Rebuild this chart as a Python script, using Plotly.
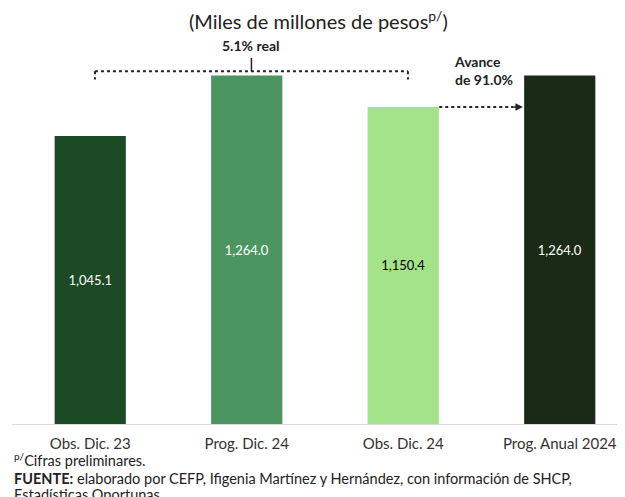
import plotly.graph_objects as go

# data
categories = ["Obs. Dic. 23", "Prog. Dic. 24", "Obs. Dic. 24", "Prog. Anual 2024"]
values = [1045.1, 1264.0, 1150.4, 1264.0]
bar_colors = ["#1c4a24", "#4a9560", "#a4e38a", "#1a2a16"]
label_colors = ["white", "white", "black", "white"]
growth_label = "5.1% real"
progress_label = "Avance<br>de 91.0%"

FONT = "Lato"

fig = go.Figure(
    go.Bar(
        x=categories,
        y=values,
        marker=dict(color=bar_colors, line=dict(width=0)),
        width=0.455,
        text=[f"{v:,.1f}" for v in values],
        textposition="inside",
        insidetextanchor="middle",
        textfont=dict(family=FONT, size=13, color=label_colors),
        hoverinfo="skip",
    )
)

# bracket between Obs. Dic. 23 and Obs. Dic. 24
y_br = 1280
dot = dict(color="#222222", width=2, dash="dot")
fig.add_shape(type="line", x0=0.03, x1=2.03, y0=y_br, y1=y_br, xref="x", yref="y", line=dot)
fig.add_shape(type="line", x0=0.03, x1=0.03, y0=y_br, y1=y_br - 30, xref="x", yref="y", line=dot)
fig.add_shape(type="line", x0=2.03, x1=2.03, y0=y_br, y1=y_br - 30, xref="x", yref="y", line=dot)
fig.add_shape(type="line", x0=1.03, x1=1.03, y0=y_br, y1=y_br + 48, xref="x", yref="y",
              line=dict(color="#222222", width=1.5))
fig.add_annotation(x=1.03, y=y_br + 56, xref="x", yref="y", text=f"<b>{growth_label}</b>",
                   showarrow=False, yanchor="bottom", font=dict(family=FONT, size=14, color="#222222"))

# dotted arrow from Obs. Dic. 24 to the annual programme
fig.add_shape(type="line", x0=2.23, x1=2.7, y0=values[2], y1=values[2], xref="x", yref="y", line=dot)
fig.add_annotation(x=2.765, y=values[2], ax=2.68, ay=values[2], xref="x", yref="y",
                   axref="x", ayref="y", text="", showarrow=True, arrowhead=2,
                   arrowsize=1, arrowwidth=1.5, arrowcolor="#222222")
fig.add_annotation(x=2.31, y=1212, xref="x", yref="y", text=f"<b>{progress_label}</b>",
                   showarrow=False, align="left", xanchor="left", yanchor="bottom",
                   font=dict(family=FONT, size=14, color="#222222"))

# title and footnotes
fig.add_annotation(x=0.5, y=1, xref="paper", yref="paper", yshift=20, yanchor="middle",
                   text="(Miles de millones de pesos<sup>p/</sup>)", showarrow=False,
                   font=dict(family=FONT, size=20, color="#222222"))
notes = [
    "<sup>p/</sup>Cifras preliminares.",
    "<b>FUENTE:</b> elaborado por CEFP, Ifigenia Martínez y Hernández, con información de SHCP,",
    "Estadísticas Oportunas.",
]
note_shifts = [-35, -54, -70.5]
for note, shift in zip(notes, note_shifts):
    fig.add_annotation(x=0, y=0, xref="paper", yref="paper", xanchor="left", yanchor="middle",
                       yshift=shift, text=note, showarrow=False, align="left",
                       font=dict(family=FONT, size=14.5, color="#222222"))

# the page body adds an 8px offset, so the figure is sized to the visible area
fig.update_layout(
    width=617,
    height=489,
    margin=dict(l=4, r=0, t=32, b=73),
    plot_bgcolor="white",
    paper_bgcolor="white",
    showlegend=False,
    xaxis=dict(
        range=[-0.5, 3.417],
        automargin=False,
        showgrid=False,
        showline=True,
        linecolor="#d9d9d9",
        ticks="",
        ticklabelstandoff=6,
        tickfont=dict(family=FONT, size=15, color="#333333"),
    ),
    yaxis=dict(range=[0, 1393], visible=False, automargin=False),
)

fig.write_html("out.html")
